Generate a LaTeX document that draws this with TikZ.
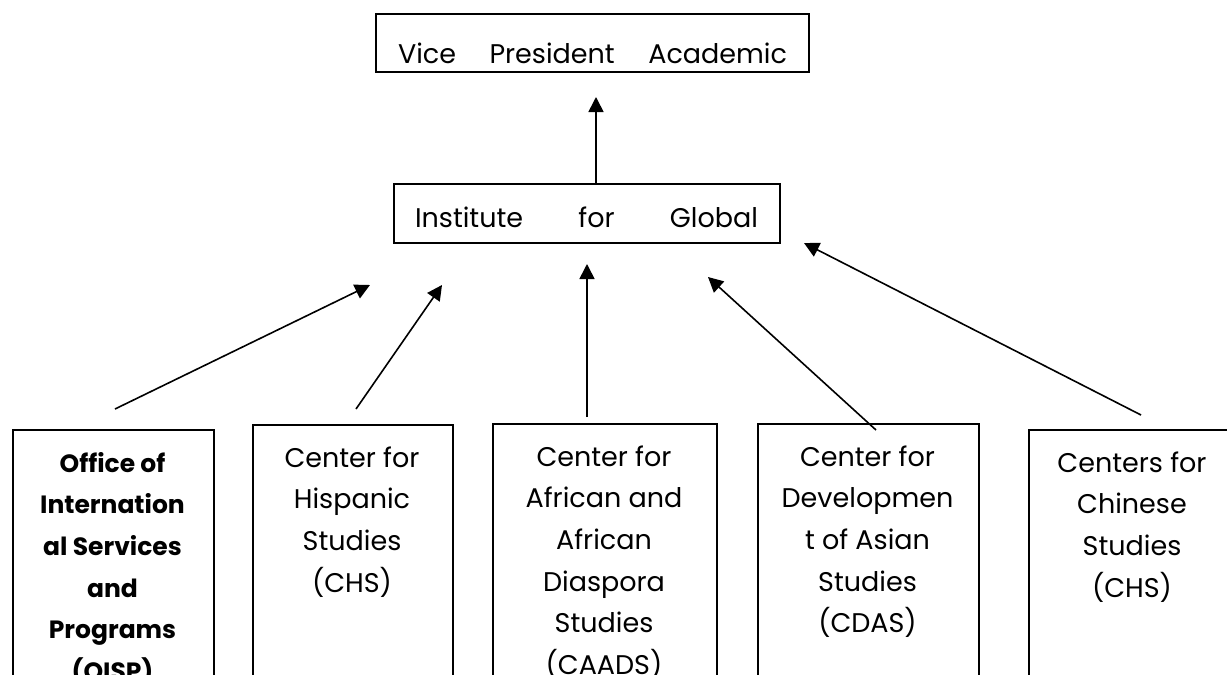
\documentclass[tikz,border=0pt]{standalone}
\usepackage{fontspec}
\setmainfont{Poppins}
\usetikzlibrary{arrows.meta}
\tikzset{
  box/.style={draw, line width=1.6pt, anchor=north west, inner sep=0pt},
  txt/.style={align=center, inner sep=0pt, anchor=base, font=\fontsize{27}{41.7}\selectfont},
  boldtxt/.style={align=center, inner sep=0pt, anchor=base, font=\fontsize{25}{41.7}\selectfont\bfseries},
  link/.style={line width=1.6pt, -{Triangle[length=15pt,width=15pt]}}
}
\begin{document}
\begin{tikzpicture}[x=1pt,y=-1pt]
\useasboundingbox (0,0) rectangle (1227,675);
\clip (0,0) rectangle (1227,675);
% top boxes
\node[box, minimum width=433pt, minimum height=58pt] (vp) at (375,13) {};
\node[txt] (vpt) at (592.5,63) {\makebox[389pt][s]{Vice President Academic}};
\node[box, minimum width=386pt, minimum height=59pt] (igs) at (393,183) {};
\node[txt] (igst) at (586.5,227) {\makebox[343pt][s]{Institute for Global}};
% bottom boxes
\node[box, minimum width=201pt, minimum height=300pt] (b1) at (12,429) {};
\node[box, minimum width=200pt, minimum height=300pt] (b2) at (252,424) {};
\node[box, minimum width=224pt, minimum height=300pt] (b3) at (492,423) {};
\node[box, minimum width=221pt, minimum height=300pt] (b4) at (757,423) {};
\node[box, minimum width=208pt, minimum height=300pt] (b5) at (1028,429) {};
% texts (anchored at the baseline of their last line)
\node[boldtxt] (b1t) at (112.5,680.5) {Office of\\Internation\\al Services\\and\\Programs\\(OISP)};
\node[txt] (b2t) at (352,592.1) {Center for\\Hispanic\\Studies\\(CHS)};
\node[txt] (b3t) at (604,674.5) {Center for\\African and\\African\\Diaspora\\Studies\\(CAADS)};
\node[txt] (b4t) at (867.5,632.8) {Center for\\Developmen\\t of Asian\\Studies\\(CDAS)};
\node[txt] (b5t) at (1132,597.1) {Centers for\\Chinese\\Studies\\(CHS)};
% arrow end points
\coordinate (t0s) at (596,183); \coordinate (t0e) at (596,97);
\coordinate (a1s) at (115,409); \coordinate (a1e) at (370,285);
\coordinate (a2s) at (356,409); \coordinate (a2e) at (442,285);
\coordinate (a3s) at (587,417); \coordinate (a3e) at (587,264);
\coordinate (a4s) at (876,430); \coordinate (a4e) at (708,277);
\coordinate (a5s) at (1141,415); \coordinate (a5e) at (804,243);
\draw[link] (t0s) -- (t0e);
\draw[link] (a1s) -- (a1e);
\draw[link] (a2s) -- (a2e);
\draw[link] (a3s) -- (a3e);
\draw[link] (a4s) -- (a4e);
\draw[link] (a5s) -- (a5e);
\end{tikzpicture}
\end{document}
